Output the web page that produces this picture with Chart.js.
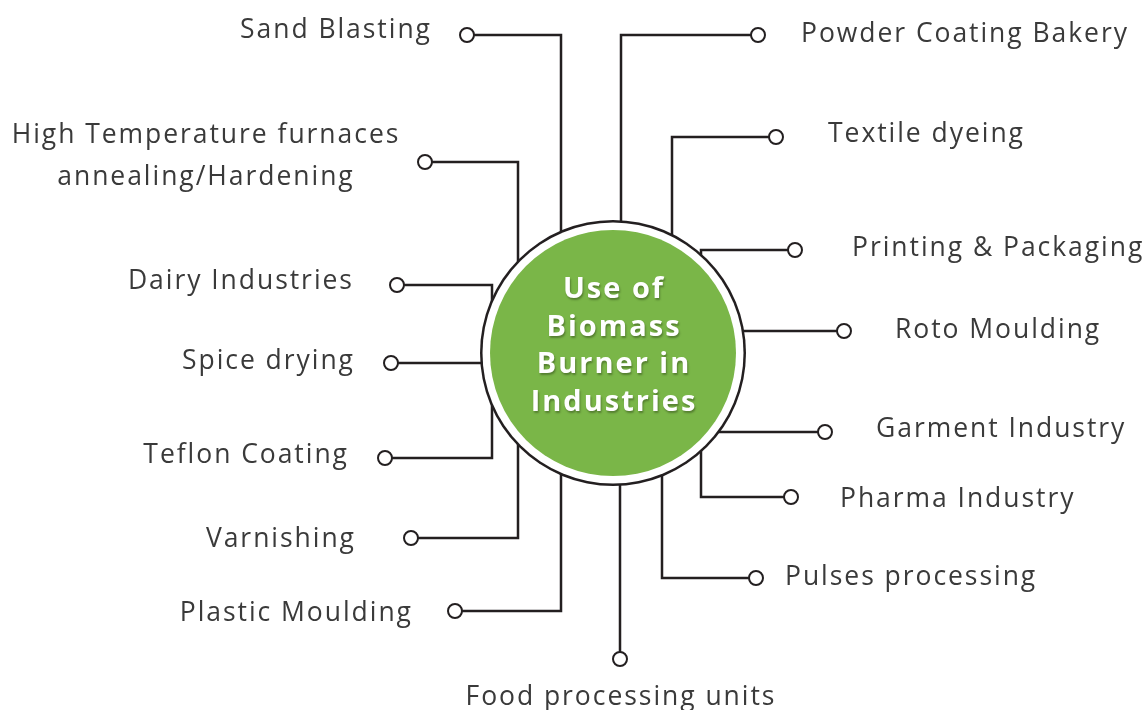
<!DOCTYPE html>
<html>
<head>
<meta charset="utf-8">
<script src="https://cdn.jsdelivr.net/npm/chart.js@4.4.1/dist/chart.umd.min.js"></script>
<style>
  html, body { margin: 0; padding: 0; background: #ffffff; }
  #wrap { width: 1148px; height: 710px; position: relative; }
</style>
</head>
<body>
<div id="wrap"><canvas id="c"></canvas></div>
<script>
// ---- data ----
const categories = [
  "Sand Blasting",
  "High Temperature furnaces\nannealing/Hardening",
  "Dairy Industries",
  "Spice drying",
  "Teflon Coating",
  "Varnishing",
  "Plastic Moulding",
  "Food processing units",
  "Pulses processing",
  "Pharma Industry",
  "Garment Industry",
  "Roto Moulding",
  "Printing & Packaging",
  "Textile dyeing",
  "Powder Coating Bakery"
];
// connector routes (diagram coordinates), from hub to end marker
const connectorPaths = [
  [[561,260],[561,35],[467,35]],
  [[518,280],[518,162],[425,162]],
  [[492,320],[492,285],[397,285]],
  [[500,363],[391,363]],
  [[492,390],[492,458],[385,458]],
  [[518,420],[518,538],[411,538]],
  [[561,440],[561,611],[455,611]],
  [[620,450],[620,659]],
  [[662,450],[662,578],[756,578]],
  [[701,430],[701,497],[791,497]],
  [[700,432],[825,432]],
  [[720,331],[844,331]],
  [[701,270],[701,250],[795,250]],
  [[672,260],[672,137],[776,137]],
  [[621,250],[621,35],[758,35]]
];
// label anchors: [x, y, align]
const labelAnchors = [
  [430,30,"right"],[205,135,"center"],[352,281,"right"],[353,361,"right"],
  [347,455,"right"],[354,539,"right"],[411,613,"right"],[620,697,"center"],
  [785,577,"left"],[840,499,"left"],[876,429,"left"],[895,330,"left"],
  [852,248,"left"],[828,134,"left"],[801,34,"left"]
];
const hub = { x: 613, y: 353 };
const centerTitle = ["Use of", "Biomass", "Burner in", "Industries"];

// ---- chart ----
const LINE = "#231f20";
const datasets = connectorPaths.map((path, i) => ({
  type: "line",
  label: categories[i],
  data: path.map(p => ({ x: p[0], y: p[1] })),
  borderColor: LINE,
  borderWidth: 2.5,
  tension: 0,
  fill: false,
  clip: false,
  pointRadius: path.map((p, j) => j === path.length - 1 ? 7 : 0),
  pointBackgroundColor: "#ffffff",
  pointBorderColor: LINE,
  pointBorderWidth: 2,
  pointHoverRadius: 0,
  order: 5
}));
// hub disc: black rim, white ring, green fill
datasets.push({ type: "bubble", label: "rim", data: [{ x: hub.x, y: hub.y, r: 133 }], backgroundColor: LINE, borderWidth: 0, clip: false, order: 3 });
datasets.push({ type: "bubble", label: "ring", data: [{ x: hub.x, y: hub.y, r: 130.5 }], backgroundColor: "#ffffff", borderWidth: 0, clip: false, order: 2 });
datasets.push({ type: "bubble", label: "hub", data: [{ x: hub.x, y: hub.y, r: 123 }], backgroundColor: "#7ab648", borderWidth: 0, clip: false, order: 1 });

function drawSpaced(ctx, text, x, y, align, spacing) {
  ctx.letterSpacing = spacing + "px";
  let dx = 0;
  if (align === "right") dx = spacing;
  else if (align === "center") dx = spacing / 2;
  ctx.textAlign = align;
  ctx.fillText(text, x + dx, y);
}

const textPlugin = {
  id: "diagramText",
  afterDatasetsDraw(chart) {
    const { ctx, scales } = chart;
    ctx.save();
    ctx.fillStyle = "#3a3a3a";
    ctx.font = "26.5px 'Open Sans'";
    ctx.textBaseline = "middle";
    categories.forEach((name, i) => {
      const [ax, ay, al] = labelAnchors[i];
      const px = scales.x.getPixelForValue(ax);
      const py = scales.y.getPixelForValue(ay);
      name.split("\n").forEach((ln, k) => drawSpaced(ctx, ln, px, py + k * 42, al, 1.95));
    });
    // hub title
    const cx = scales.x.getPixelForValue(hub.x);
    const cy = scales.y.getPixelForValue(hub.y - 7);
    ctx.font = "bold 29px 'Open Sans'";
    ctx.fillStyle = "#ffffff";
    ctx.shadowColor = "rgba(40,60,20,0.45)";
    ctx.shadowOffsetX = 1;
    ctx.shadowOffsetY = 2;
    ctx.shadowBlur = 2;
    centerTitle.forEach((ln, k) => drawSpaced(ctx, ln, cx, cy + (k - 1.5) * 37.5, "center", 2));
    ctx.restore();
  }
};

new Chart(document.getElementById("c"), {
  data: { datasets },
  options: {
    responsive: true,
    maintainAspectRatio: false,
    animation: false,
    layout: { padding: 0, autoPadding: false },
    events: [],
    plugins: { legend: { display: false }, tooltip: { enabled: false } },
    scales: {
      x: { type: "linear", min: 0, max: 1148, display: false },
      y: { type: "linear", min: 0, max: 710, reverse: true, display: false }
    }
  },
  plugins: [textPlugin]
});
</script>
</body>
</html>
